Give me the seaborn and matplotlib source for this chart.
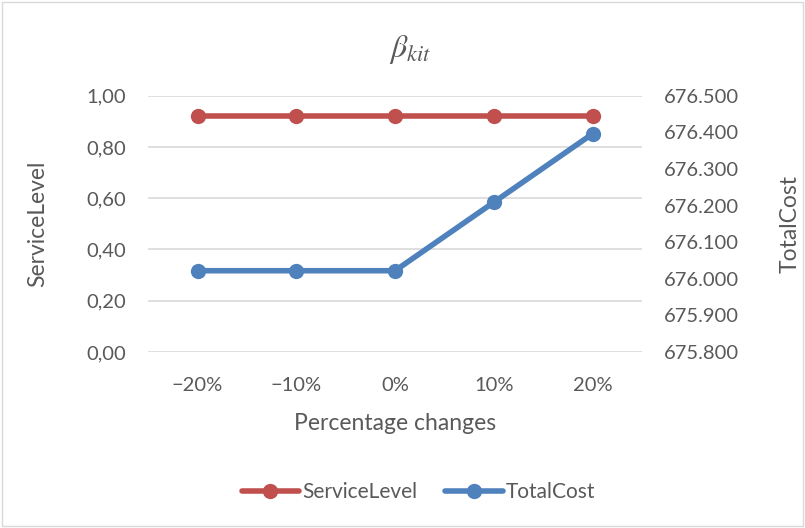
import matplotlib
matplotlib.use("Agg")
import matplotlib.pyplot as plt
import matplotlib.ticker as mticker
from matplotlib.lines import Line2D
import pandas as pd
import seaborn as sns

# chart data
changes = ["\u221220%", "\u221210%", "0%", "10%", "20%"]
service_level = [0.92, 0.92, 0.92, 0.92, 0.92]
total_cost = [676022, 676022, 676022, 676209, 676396]

red = "#c0504d"
blue = "#4f81bd"
grey_text = "#595959"

sns.set_style("white")
plt.rcParams["font.family"] = ["Lato", "DejaVu Sans"]
plt.rcParams["mathtext.fontset"] = "stix"

df = pd.DataFrame({"change": changes, "ServiceLevel": service_level, "TotalCost": total_cost})

fig = plt.figure(figsize=(8.05, 5.28), dpi=100)
ax = fig.add_axes([0.184, 0.3333, 0.6135, 0.4855])
ax2 = ax.twinx()

sns.lineplot(data=df, x="change", y="ServiceLevel", ax=ax, color=red, linewidth=4,
             marker="o", markersize=11, markeredgewidth=0, sort=False)
sns.lineplot(data=df, x="change", y="TotalCost", ax=ax2, color=blue, linewidth=4,
             marker="o", markersize=11, markeredgewidth=0, sort=False)

ax.set_xlim(-0.5, len(changes) - 0.5)
ax.set_ylim(0, 1.0)
ax.set_yticks([0, 0.2, 0.4, 0.6, 0.8, 1.0])
ax.yaxis.set_major_formatter(mticker.FuncFormatter(lambda v, p: f"{v:.2f}".replace(".", ",")))
ax2.set_ylim(675800, 676500)
ax2.set_yticks(range(675800, 676501, 100))
ax2.yaxis.set_major_formatter(mticker.FuncFormatter(lambda v, p: f"{int(round(v)):,}".replace(",", ".")))

ax.yaxis.grid(True, color="#d9d9d9", linewidth=1.2)
ax.set_axisbelow(True)
for a in (ax, ax2):
    for s in a.spines.values():
        s.set_visible(False)
    a.tick_params(length=0, labelsize=14.5, colors=grey_text)
ax.tick_params(axis="y", pad=16)
ax2.tick_params(axis="y", pad=16)
ax.tick_params(axis="x", pad=18)

ax.set_xlabel("Percentage changes", fontsize=16.5, color=grey_text)
ax.set_ylabel("ServiceLevel", fontsize=16.5, color=grey_text)
ax2.set_ylabel("TotalCost", fontsize=16.5, color=grey_text)
for lab in (ax.xaxis.label, ax.yaxis.label, ax2.yaxis.label):
    lab.set_va("center")
ax.xaxis.set_label_coords(0.5, -0.277)
ax.yaxis.set_label_coords(-0.2227, 0.5)
ax2.yaxis.set_label_coords(1.2996, 0.5)

fig.text(0.509, 0.907, r"$\beta_{kit}$", fontsize=23, color=grey_text, ha="center", va="center")

handles = [Line2D([], [], color=red, linewidth=4, marker="o", markersize=11, markeredgewidth=0),
           Line2D([], [], color=blue, linewidth=4, marker="o", markersize=11, markeredgewidth=0)]
leg = fig.legend(handles, ["ServiceLevel", "TotalCost"], loc="center", bbox_to_anchor=(0.52, 0.068),
                 ncol=2, frameon=False, fontsize=15, handlelength=2.75, handletextpad=0.15,
                 columnspacing=1.35)
for t in leg.get_texts():
    t.set_color(grey_text)

fig.patches.append(plt.Rectangle((0.002, 0.003), 0.995, 0.994, transform=fig.transFigure,
                                 fill=False, edgecolor="#d9d9d9", linewidth=1))

fig.savefig("out.png", dpi=100)
